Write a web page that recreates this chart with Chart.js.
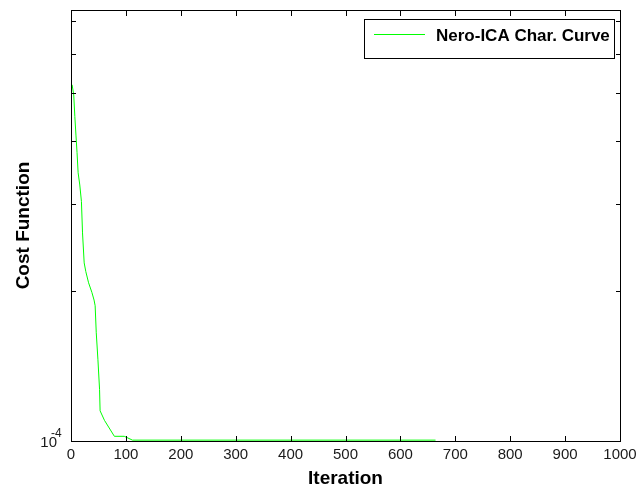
<!DOCTYPE html>
<html>
<head>
<meta charset="utf-8">
<script src="https://cdn.jsdelivr.net/npm/chart.js@4.4.1/dist/chart.umd.min.js"></script>
<style>
  html, body { margin: 0; padding: 0; background: #ffffff; }
  #wrap { width: 638px; height: 490px; }
</style>
</head>
<body>
<div id="wrap"><canvas id="cost" width="638" height="490"></canvas></div>
<script>
// Convergence history of the Nero-ICA run (cost per iteration, log scale)
const iterations = [2, 5, 7, 9, 11, 13, 16, 19, 21, 24, 27, 32, 38, 42, 44, 46, 49, 52, 53, 61, 79, 97, 112, 664];
const costValues = [5.20e-4, 4.96e-4, 4.49e-4, 4.12e-4, 3.80e-4, 3.46e-4, 3.27e-4, 3.03e-4, 2.62e-4, 2.28e-4,
                    2.19e-4, 2.08e-4, 1.99e-4, 1.92e-4, 1.87e-4, 1.65e-4, 1.46e-4, 1.27e-4, 1.15e-4, 1.10e-4,
                    1.022e-4, 1.022e-4, 1.004e-4, 1.004e-4];
const seriesLabel = 'Nero-ICA Char. Curve';
const xTickValues = [0, 100, 200, 300, 400, 500, 600, 700, 800, 900, 1000];
const yTickValues = [1e-4, 2e-4, 3e-4, 4e-4, 5e-4, 6e-4, 7e-4];
const xRange = [0, 1000];
const yRange = [1e-4, 7.35e-4];

const FONT = "'Liberation Sans', Arial, sans-serif";

// Boxed axes with inward tick marks, the decade label and the boxed legend
const framePlugin = {
  id: 'matlabFrame',
  afterDraw(chart) {
    const { ctx, chartArea: a, scales } = chart;
    const xs = scales.x, ys = scales.y;
    const L = Math.round(a.left), R = Math.round(a.right), T = Math.round(a.top), B = Math.round(a.bottom);
    ctx.save();
    ctx.fillStyle = '#000000';
    // axes box
    ctx.fillRect(L, T, R - L + 1, 1);
    ctx.fillRect(L, B, R - L + 1, 1);
    ctx.fillRect(L, T, 1, B - T + 1);
    ctx.fillRect(R, T, 1, B - T + 1);
    // x ticks, bottom and top, pointing inward
    const tl = 5;
    xs.ticks.forEach(t => {
      const px = Math.round(xs.getPixelForValue(t.value));
      ctx.fillRect(px, B - tl, 1, tl);
      ctx.fillRect(px, T + 1, 1, tl);
    });
    // y ticks, left and right, pointing inward
    ys.ticks.forEach(t => {
      const py = Math.round(ys.getPixelForValue(t.value));
      ctx.fillRect(L + 1, py, 4, 1);
      ctx.fillRect(R - 4, py, 4, 1);
    });
    // decade label at the bottom of the log axis
    const base = yTickValues[0];
    const exp = Math.round(Math.log10(base));
    const py0 = ys.getPixelForValue(base);
    ctx.fillStyle = '#1a1a1a';
    ctx.textBaseline = 'alphabetic';
    ctx.font = '15px ' + FONT;
    ctx.textAlign = 'right';
    ctx.fillText('10', 57, py0 + 6);
    ctx.font = '12px ' + FONT;
    ctx.textAlign = 'left';
    ctx.fillText(String(exp), 51, py0 - 4);

    // legend box
    const ds = chart.data.datasets[0];
    const bx = 364, by = 19, bw = 250, bh = 39;
    ctx.fillStyle = '#ffffff';
    ctx.fillRect(bx, by, bw, bh);
    ctx.fillStyle = '#000000';
    ctx.fillRect(bx, by, bw + 1, 1);
    ctx.fillRect(bx, by + bh, bw + 1, 1);
    ctx.fillRect(bx, by, 1, bh + 1);
    ctx.fillRect(bx + bw, by, 1, bh + 1);
    ctx.strokeStyle = ds.borderColor;
    ctx.lineWidth = 1;
    ctx.beginPath();
    ctx.moveTo(374, 34.5);
    ctx.lineTo(425, 34.5);
    ctx.stroke();
    ctx.fillStyle = '#000000';
    ctx.font = 'bold 17px ' + FONT;
    ctx.textAlign = 'left';
    ctx.fillText(ds.label, 436, 41);
    ctx.restore();
  }
};

const points = iterations.map((it, i) => ({ x: it, y: costValues[i] }));

new Chart(document.getElementById('cost'), {
  type: 'line',
  data: {
    datasets: [{
      label: seriesLabel,
      data: points,
      borderColor: '#00ff00',
      borderWidth: 1,
      pointRadius: 0,
      tension: 0,
      fill: false
    }]
  },
  options: {
    responsive: false,
    animation: false,
    devicePixelRatio: 1,
    layout: { padding: { top: 10, right: 18, left: 0, bottom: 0 } },
    plugins: { legend: { display: false }, tooltip: { enabled: false } },
    scales: {
      x: {
        type: 'linear',
        min: xRange[0],
        max: xRange[1],
        afterBuildTicks(scale) { scale.ticks = xTickValues.map(v => ({ value: v })); },
        afterFit(scale) { scale.height = 49; scale.paddingLeft = 0; scale.paddingRight = 0; },
        grid: { display: false, drawTicks: false },
        border: { display: false },
        ticks: {
          color: '#1a1a1a',
          font: { family: FONT, size: 15 },
          padding: 5,
          maxRotation: 0,
          autoSkip: false,
          callback: v => String(v)
        },
        title: {
          display: true,
          text: 'Iteration',
          color: '#000000',
          font: { family: FONT, size: 19, weight: 'bold' },
          padding: { top: 0, bottom: 0 }
        }
      },
      y: {
        type: 'logarithmic',
        min: yRange[0],
        max: yRange[1],
        afterBuildTicks(scale) { scale.ticks = yTickValues.map(v => ({ value: v })); },
        afterFit(scale) { scale.width = 71; },
        grid: { display: false, drawTicks: false },
        border: { display: false },
        ticks: { display: false },
        title: {
          display: true,
          text: 'Cost Function',
          color: '#000000',
          font: { family: FONT, size: 19, weight: 'bold' },
          padding: { top: 12, bottom: 0 }
        }
      }
    }
  },
  plugins: [framePlugin]
});
</script>
</body>
</html>
